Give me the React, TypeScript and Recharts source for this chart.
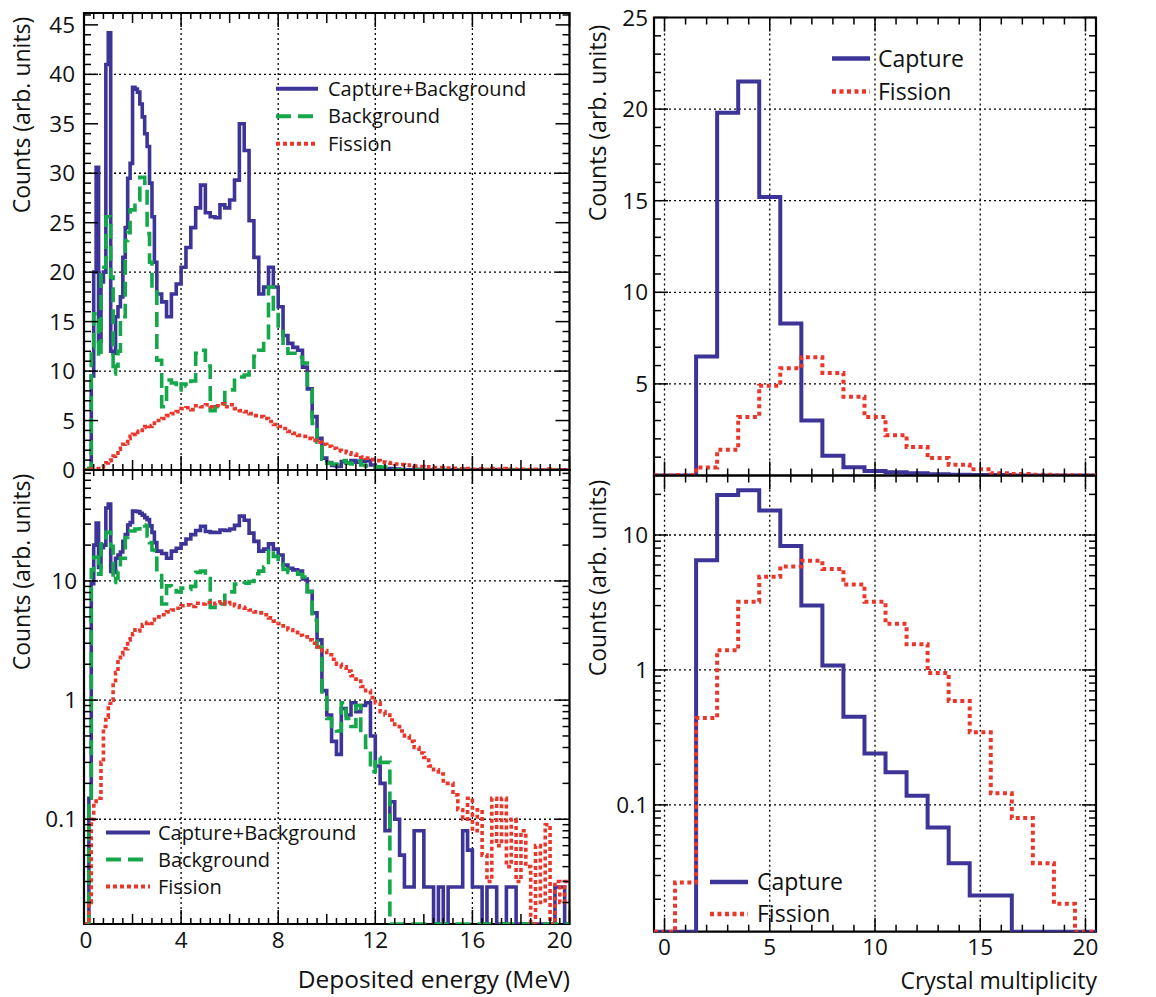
import React from 'react';
import { LineChart, Line, XAxis, YAxis, ReferenceLine, ReferenceArea, Legend } from 'recharts';

const FONT = '"Open Sans", "DejaVu Sans", sans-serif';
const BLUE = '#3c3597';
const GREEN = '#14a84a';
const RED = '#ea372c';
const W = 1156;
const H = 997;

// ---------- Deposited energy histograms (bin low edges, MeV) ----------
const fineEdges = Array.from({ length: 30 }, (_, i) => Math.round(i) / 10); // 0.0 .. 2.9 (0.1 MeV bins)
const coarseEdges = Array.from({ length: 85 }, (_, i) => Math.round(30 + i * 2) / 10); // 3.0 .. 19.8 (0.2 MeV bins)
const energyEdges = [...fineEdges, ...coarseEdges];
const ENERGY_MAX = 20;

const captureBackground = [
  0, 0, 0.15, 9.5, 20, 30.6, 13, 19, 20, 41, 44.2, 12, 11.8, 15.5, 16.5, 17.5, 21.5, 24.5, 29.5, 31,
  38.7, 38.5, 38.2, 37, 35.7, 34, 32.7, 29, 25.6, 21,
  17.8, 17, 15.5, 17.8, 18.8, 20.5, 22.5, 24.5, 26.5, 28.8,
  26, 25.6, 25.5, 26.8, 26.5, 27.3, 29.3, 35, 32.3, 25.2,
  21.5, 17.8, 18.5, 20.5, 18.5, 16.5, 13.6, 12.8, 12.4, 12.1,
  10.4, 8.2, 5.4, 3.2, 1.2, 0.75, 0.45, 0.35, 0.85, 0.75,
  0.95, 0.8, 0.9, 0.95, 0.5, 0.28, 0.2, 0.08, 0.14, 0.1,
  0.05, 0.027, 0.027, 0.08, 0.08, 0.027, 0.027, 0, 0.027, 0,
  0.027, 0.027, 0.027, 0.08, 0.055, 0.027, 0.027, 0, 0.027, 0.027,
  0, 0, 0.027, 0.027, 0, 0, 0, 0, 0, 0,
  0, 0, 0.027, 0.027, 0,
];

const background = [
  0, 0, 0.15, 12.4, 15.8, 15.8, 11.4, 20.5, 20.5, 25.6, 25.6, 19.5, 9.7, 10.5, 12, 15.5, 15.5, 23.2, 24, 26.3,
  26.3, 27.3, 27.3, 29.6, 29.6, 29, 23.9, 21, 18.2, 18,
  11.1, 6.4, 9.1, 8.8, 8.1, 8.7, 8.5, 9, 11.8, 12.1,
  10.5, 6.0, 6.4, 6.4, 8.1, 8.1, 9.4, 9.4, 9.6, 9.9,
  11.5, 12.1, 13.1, 18.5, 16.1, 14, 12.5, 11.8, 11.8, 11.4,
  10.8, 8.1, 4.7, 2.8, 1.1, 0.7, 0.6, 0.55, 0.95, 0.7,
  0.6, 0.9, 0.5, 0.4, 0.25, 0.33, 0.3, 0.3, 0, 0,
  0, 0, 0, 0, 0, 0, 0, 0, 0, 0,
  0, 0, 0, 0, 0, 0, 0, 0, 0, 0,
  0, 0, 0, 0, 0, 0, 0, 0, 0, 0,
  0, 0, 0, 0, 0,
];

const fissionEnergy = [
  0, 0, 0.02, 0.1, 0.13, 0.15, 0.15, 0.3, 0.6, 0.72, 0.94, 1.0, 1.4, 1.7, 2.1, 2.4, 2.6, 2.7, 3.2, 3.4,
  3.6, 3.9, 3.8, 4.0, 4.3, 4.4, 4.5, 4.4, 4.7, 5.0,
  5.0, 5.2, 5.5, 5.7, 5.9, 6.2, 6.3, 6.1, 6.5, 6.4,
  6.6, 6.4, 6.5, 6.7, 6.4, 6.6, 6.2, 6.0, 5.9, 5.7,
  5.5, 5.4, 5.2, 4.9, 4.6, 4.4, 4.2, 3.9, 3.7, 3.5,
  3.4, 3.2, 3.0, 2.8, 2.6, 2.4, 2.2, 2.0, 1.9, 1.75,
  1.6, 1.5, 1.3, 1.2, 1.05, 0.95, 0.8, 0.75, 0.68, 0.6,
  0.55, 0.5, 0.45, 0.4, 0.36, 0.33, 0.28, 0.26, 0.24, 0.2,
  0.2, 0.16, 0.12, 0.1, 0.15, 0.08, 0.12, 0.05, 0.03, 0.15,
  0.06, 0.15, 0.04, 0.1, 0.03, 0.08, 0.04, 0, 0.06, 0.02,
  0.09, 0, 0.03, 0.02, 0.03,
];

// ---------- Crystal multiplicity histograms (bins centred on 0..20) ----------
const multiplicity = [0, 1, 2, 3, 4, 5, 6, 7, 8, 9, 10, 11, 12, 13, 14, 15, 16, 17, 18, 19, 20];
const captureMult = [0, 0, 6.5, 19.8, 21.5, 15.2, 8.3, 3.0, 1.08, 0.45, 0.24, 0.175, 0.117, 0.068, 0.037, 0.0213, 0.0213, 0, 0, 0, 0];
const fissionMult = [0, 0.0266, 0.44, 1.4, 3.2, 4.9, 5.85, 6.45, 5.6, 4.3, 3.2, 2.2, 1.55, 0.95, 0.59, 0.345, 0.122, 0.08, 0.037, 0.0185, 0];

// ---------- tick labels ----------
const energyTickLabels = [0, 4, 8, 12, 16, 20];
const multTickLabels = [0, 5, 10, 15, 20];
const linTopLeftLabels = [0, 5, 10, 15, 20, 25, 30, 35, 40, 45];
const linTopRightLabels = [5, 10, 15, 20, 25];
const logLabels = [0.1, 1, 10];

// ---------- frames (plot rectangles) ----------
type Frame = { left: number; right: number; top: number; bottom: number };
const TL: Frame = { left: 84, right: 569.5, top: 13, bottom: 470 };
const BL: Frame = { left: 84, right: 569.5, top: 470, bottom: 924 };
const TR: Frame = { left: 654, right: 1096, top: 17.5, bottom: 475.5 };
const BR: Frame = { left: 654, right: 1096, top: 475.5, bottom: 931.7 };

const TL_Y: [number, number] = [0, 46.2];
const BL_Y: [number, number] = [0.0132, 85.4];
const TR_Y: [number, number] = [0, 25];
const BR_Y: [number, number] = [0.0115, 27.6];

const near = (a: number, b: number) => Math.abs(a - b) < 1e-6;
const isMult = (v: number, m: number) => near(v / m, Math.round(v / m));

function logTicks(min: number, max: number) {
  const out: number[] = [];
  [0.01, 0.1, 1, 10].forEach((d) => {
    for (let m = 1; m <= 9; m++) {
      const v = +(m * d).toPrecision(3);
      if (v >= min && v <= max) out.push(v);
    }
  });
  return out;
}

const energyTicks = Array.from({ length: 51 }, (_, i) => Math.round(i * 4) / 10);
const multTicks = Array.from({ length: 21 }, (_, i) => i);
const tlYTicks = Array.from({ length: 47 }, (_, i) => i);
const trYTicks = Array.from({ length: 26 }, (_, i) => i);

function energyRows(log: boolean, floor: number) {
  const f = (v: number) => (log ? Math.max(v, floor) : v);
  const rows = energyEdges.map((e, i) => ({
    x: e,
    cb: f(captureBackground[i]),
    bg: f(background[i]),
    fi: f(fissionEnergy[i]),
  }));
  const n = energyEdges.length - 1;
  rows.push({ x: ENERGY_MAX, cb: f(captureBackground[n]), bg: f(background[n]), fi: f(fissionEnergy[n]) });
  return rows;
}

function multRows(log: boolean, floor: number) {
  const f = (v: number) => (log ? Math.max(v, floor) : v);
  const rows = multiplicity.map((m, i) => ({ x: m - 0.5, cap: f(captureMult[i]), fi: f(fissionMult[i]) }));
  const n = multiplicity.length - 1;
  rows.push({ x: multiplicity[n] + 0.5, cap: f(captureMult[n]), fi: f(fissionMult[n]) });
  return rows;
}

type Series = { key: string; color: string; dash?: string; width: number; label: string };

type PanelProps = {
  frame: Frame;
  data: any[];
  xDomain: [number, number];
  yDomain: [number, number];
  log: boolean;
  xTicks: number[];
  yTicks: number[];
  xMajor: (v: number) => number;
  yMajor: (v: number) => number;
  xLabels: number[] | null;
  yLabels: number[];
  yLabelGap: number;
  xLabelDy: number;
  gridX: number[];
  gridY: number[];
  series: Series[];
  legend: { left: number; top: number; lineLen: number; gap: number; fontSize: number; rowH: number };
  lastLabelEnd?: boolean;
};

function LegendRows({ series, lineLen, gap, fontSize, rowH }: any) {
  return (
    <svg width={lineLen + gap + 230} height={rowH * series.length} style={{ display: 'block', overflow: 'visible' }}>
      {series.map((s: Series, i: number) => (
        <g key={s.key}>
          <line
            x1={0}
            x2={lineLen}
            y1={rowH * i + rowH / 2}
            y2={rowH * i + rowH / 2}
            stroke={s.color}
            strokeWidth={s.width + 0.5}
            strokeDasharray={s.dash}
          />
          <text x={lineLen + gap} y={rowH * i + rowH / 2} dy="0.36em" fontSize={fontSize} fontFamily={FONT} fill="#111">
            {s.label}
          </text>
        </g>
      ))}
    </svg>
  );
}

function Panel(p: PanelProps) {
  const { frame } = p;
  const fmt = (v: number) => (near(v, 0.1) ? '0.1' : String(v));

  const yTick = (props: any) => {
    const { y, payload } = props;
    const v = payload.value;
    const len = p.yMajor(v);
    const show = p.yLabels.some((l) => near(l, v));
    return (
      <g>
        <line x1={frame.left} x2={frame.left + len} y1={y} y2={y} stroke="#000" strokeWidth={1.5} />
        <line x1={frame.right - len} x2={frame.right} y1={y} y2={y} stroke="#000" strokeWidth={1.5} />
        {show && (
          <text x={frame.left - p.yLabelGap} y={y} dy="0.36em" textAnchor="end" fontSize={22.5} fontFamily={FONT} fill="#111">
            {fmt(v)}
          </text>
        )}
      </g>
    );
  };

  const xTick = (props: any) => {
    const { x, payload } = props;
    const v = payload.value;
    const len = p.xMajor(v);
    const show = p.xLabels !== null && p.xLabels.some((l) => near(l, v));
    const isLast = p.lastLabelEnd && p.xLabels !== null && near(v, p.xLabels[p.xLabels.length - 1]);
    return (
      <g>
        <line x1={x} x2={x} y1={frame.bottom} y2={frame.bottom - len} stroke="#000" strokeWidth={1.5} />
        <line x1={x} x2={x} y1={frame.top} y2={frame.top + len} stroke="#000" strokeWidth={1.5} />
        {show && (
          <text
            x={isLast ? x + 3 : near(v, 0) && p.lastLabelEnd ? x + 2 : x}
            y={frame.bottom + p.xLabelDy}
            dy="0.36em"
            textAnchor={isLast ? 'end' : 'middle'}
            fontSize={22.5}
            fontFamily={FONT}
            fill="#111"
          >
            {fmt(v)}
          </text>
        )}
      </g>
    );
  };

  return (
    <div style={{ position: 'absolute', left: 0, top: 0 }}>
      <LineChart
        width={W}
        height={H}
        data={p.data}
        margin={{ left: frame.left - 1, right: W - frame.right, top: frame.top, bottom: H - frame.bottom - 1 }}
      >
        <XAxis
          type="number"
          dataKey="x"
          domain={p.xDomain}
          allowDataOverflow
          ticks={p.xTicks}
          interval={0}
          height={1}
          axisLine={false}
          tickLine={false}
          tick={xTick}
        />
        <YAxis
          type="number"
          domain={p.yDomain}
          scale={p.log ? 'log' : 'linear'}
          allowDataOverflow
          ticks={p.yTicks}
          interval={0}
          width={1}
          axisLine={false}
          tickLine={false}
          tick={yTick}
        />
        {p.gridX.map((g) => (
          <ReferenceLine key={'gx' + g} x={g} stroke="#000" strokeWidth={1.3} strokeDasharray="2 3" />
        ))}
        {p.gridY.map((g) => (
          <ReferenceLine key={'gy' + g} y={g} stroke="#000" strokeWidth={1.3} strokeDasharray="2 3" />
        ))}
        {p.series.map((s) => (
          <Line
            key={s.key}
            type="stepAfter"
            dataKey={s.key}
            stroke={s.color}
            strokeWidth={s.width}
            strokeDasharray={s.dash}
            dot={false}
            activeDot={false}
            isAnimationActive={false}
          />
        ))}
        <ReferenceArea
          x1={p.xDomain[0]}
          x2={p.xDomain[1]}
          y1={p.yDomain[0]}
          y2={p.yDomain[1]}
          fill="none"
          fillOpacity={0}
          stroke="#000"
          strokeWidth={2.2}
          ifOverflow="visible"
        />
        <Legend
          layout="horizontal"
          verticalAlign="middle"
          wrapperStyle={{ left: p.legend.left, top: p.legend.top, width: 320, height: 'auto' }}
          content={() => (
            <LegendRows
              series={p.series}
              lineLen={p.legend.lineLen}
              gap={p.legend.gap}
              fontSize={p.legend.fontSize}
              rowH={p.legend.rowH}
            />
          )}
        />
      </LineChart>
    </div>
  );
}

const energyXLen = (v: number) => (isMult(v, 4) ? 14 : isMult(v, 2) ? 10 : 6);
const multXLen = (v: number) => (isMult(v, 5) ? 14 : 7);
const linYLen = (v: number) => (isMult(v, 5) ? 14 : 7);
const logYLen = (v: number) => (logLabels.some((l) => near(l, v)) || near(v, 0.01) || near(v, 100) ? 14 : 7);

const leftSeries = (w: number): Series[] => [
  { key: 'cb', color: BLUE, width: w, label: 'Capture+Background' },
  { key: 'bg', color: GREEN, width: w, dash: '15 7', label: 'Background' },
  { key: 'fi', color: RED, width: w, dash: '4 3', label: 'Fission' },
];
const rightSeries = (w: number): Series[] => [
  { key: 'cap', color: BLUE, width: w, label: 'Capture' },
  { key: 'fi', color: RED, width: w, dash: '4 3.5', label: 'Fission' },
];

export default function App() {
  const tlData = energyRows(false, 0);
  const blData = energyRows(true, BL_Y[0]);
  const trData = multRows(false, 0);
  const brData = multRows(true, BR_Y[0]);

  return (
    <div style={{ position: 'absolute', left: 0, top: 0, width: W, height: H, background: '#fff', overflow: 'hidden' }}>
      <Panel
        frame={TL}
        data={tlData}
        xDomain={[0, ENERGY_MAX]}
        yDomain={TL_Y}
        log={false}
        xTicks={energyTicks}
        yTicks={tlYTicks}
        xMajor={energyXLen}
        yMajor={linYLen}
        xLabels={null}
        yLabels={linTopLeftLabels}
        yLabelGap={9}
        xLabelDy={17}
        gridX={[4, 8, 12, 16]}
        gridY={[10, 20, 30, 40]}
        series={leftSeries(3.6)}
        legend={{ left: 276, top: 75.25, lineLen: 42, gap: 10, fontSize: 20, rowH: 27.5 }}
      />
      <Panel
        frame={BL}
        data={blData}
        xDomain={[0, ENERGY_MAX]}
        yDomain={BL_Y}
        log={true}
        xTicks={energyTicks}
        yTicks={logTicks(BL_Y[0], BL_Y[1])}
        xMajor={energyXLen}
        yMajor={logYLen}
        xLabels={energyTickLabels}
        yLabels={logLabels}
        yLabelGap={7}
        xLabelDy={16}
        gridX={[4, 8, 12, 16]}
        gridY={[0.1, 1, 10]}
        series={leftSeries(3.6)}
        legend={{ left: 106, top: 818.5, lineLen: 44, gap: 8, fontSize: 20, rowH: 27 }}
        lastLabelEnd
      />
      <Panel
        frame={TR}
        data={trData}
        xDomain={[-0.5, 20.5]}
        yDomain={TR_Y}
        log={false}
        xTicks={multTicks}
        yTicks={trYTicks}
        xMajor={multXLen}
        yMajor={linYLen}
        xLabels={null}
        yLabels={linTopRightLabels}
        yLabelGap={6}
        xLabelDy={16}
        gridX={[0, 5, 10, 15, 20]}
        gridY={[5, 10, 15, 20]}
        series={rightSeries(4)}
        legend={{ left: 832, top: 41.5, lineLen: 38, gap: 8, fontSize: 23, rowH: 33 }}
      />
      <Panel
        frame={BR}
        data={brData}
        xDomain={[-0.5, 20.5]}
        yDomain={BR_Y}
        log={true}
        xTicks={multTicks}
        yTicks={logTicks(BR_Y[0], BR_Y[1])}
        xMajor={multXLen}
        yMajor={logYLen}
        xLabels={multTickLabels}
        yLabels={logLabels}
        yLabelGap={6}
        xLabelDy={15.5}
        gridX={[0, 5, 10, 15, 20]}
        gridY={[0.1, 1, 10]}
        series={rightSeries(4)}
        legend={{ left: 710, top: 866, lineLen: 38, gap: 9, fontSize: 23, rowH: 32 }}
      />
      <svg
        width={W}
        height={H}
        style={{ position: 'absolute', left: 0, top: 0, pointerEvents: 'none' }}
        fontFamily={FONT}
        fill="#111"
      >
        <text transform="translate(22,115) rotate(-90)" textAnchor="middle" dy="0.36em" fontSize={23}>
          Counts (arb. units)
        </text>
        <text transform="translate(22,572) rotate(-90)" textAnchor="middle" dy="0.36em" fontSize={23}>
          Counts (arb. units)
        </text>
        <text transform="translate(598,123) rotate(-90)" textAnchor="middle" dy="0.36em" fontSize={23}>
          Counts (arb. units)
        </text>
        <text transform="translate(598,578) rotate(-90)" textAnchor="middle" dy="0.36em" fontSize={23}>
          Counts (arb. units)
        </text>
        <text x={570} y={988} textAnchor="end" fontSize={24.5}>
          Deposited energy (MeV)
        </text>
        <text x={1097} y={989} textAnchor="end" fontSize={23}>
          Crystal multiplicity
        </text>
      </svg>
    </div>
  );
}
